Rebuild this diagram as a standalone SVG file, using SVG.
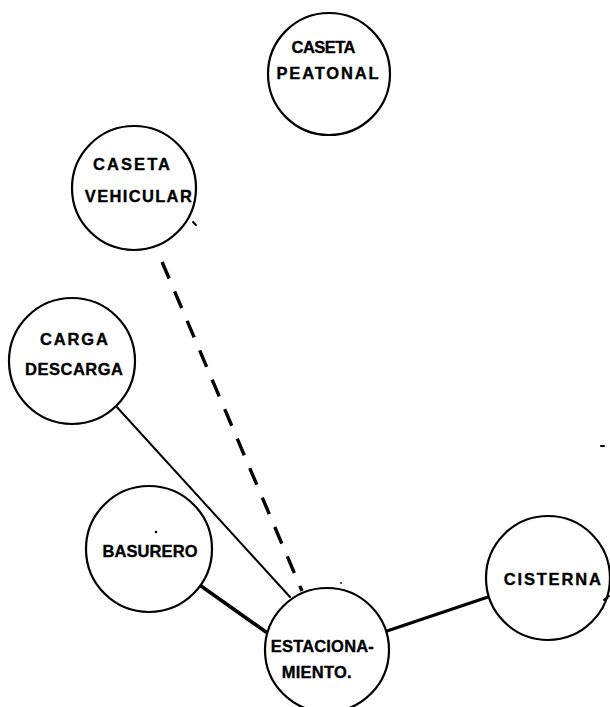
<svg xmlns="http://www.w3.org/2000/svg" width="610" height="707" viewBox="0 0 610 707">
<style>
.node{fill:#fff;stroke:#000;stroke-width:2.2}
.lbl{font-family:"Liberation Sans",Arial,sans-serif;font-weight:bold;font-size:16.5px;fill:#000;stroke:#000;stroke-width:0.35;text-anchor:middle}
.c{stroke:#000;fill:none;stroke-linecap:round}
.mark{stroke:#000;stroke-width:2;stroke-linecap:round;fill:none}
</style>
<rect width="610" height="707" fill="#fff"/>
<g id="connectors">
<line class="c" x1="157" y1="250" x2="302" y2="591" stroke-width="3.4" stroke-dasharray="18 14" stroke-dashoffset="19" style="stroke-linecap:butt"/>
<line class="c" x1="115" y1="405" x2="290" y2="597" stroke-width="2"/>
<line class="c" x1="201" y1="586" x2="266" y2="632" stroke-width="3.6"/>
<line class="c" x1="387" y1="631" x2="491" y2="596" stroke-width="3.2"/>
</g>
<g id="caseta-peatonal">
<circle class="node" cx="329" cy="74" r="61"/>
<text class="lbl" x="323.5" y="53" textLength="64">CASETA</text>
<text class="lbl" x="327.5" y="78.5" textLength="102">PEATONAL</text>
</g>
<g id="caseta-vehicular">
<circle class="node" cx="134" cy="188" r="62"/>
<text class="lbl" x="131.5" y="169.5" textLength="77">CASETA</text>
<text class="lbl" x="138.3" y="201.5" textLength="107">VEHICULAR</text>
</g>
<g id="carga-descarga">
<circle class="node" cx="72" cy="361" r="63"/>
<text class="lbl" x="74" y="345" textLength="68">CARGA</text>
<text class="lbl" x="74" y="375" textLength="98">DESCARGA</text>
</g>
<g id="basurero">
<circle class="node" cx="149" cy="549" r="63"/>
<text class="lbl" x="150" y="557" textLength="95">BASURERO</text>
</g>
<g id="estacionamiento">
<circle class="node" cx="327" cy="650" r="62"/>
<text class="lbl" x="322.3" y="652" textLength="103">ESTACIONA-</text>
<text class="lbl" x="316.7" y="678" textLength="70">MIENTO.</text>
</g>
<g id="cisterna">
<circle class="node" cx="548" cy="578" r="62"/>
<text class="lbl" x="552.3" y="585" textLength="97">CISTERNA</text>
</g>
<g id="marks">
<line class="mark" x1="193" y1="222" x2="196" y2="225"/>
<line class="mark" x1="601" y1="446" x2="604" y2="446"/>
<circle cx="156" cy="532" r="1.3" fill="#000"/>
<circle cx="341" cy="583" r="0.9" fill="#000"/>
<line class="mark" x1="604" y1="600" x2="609" y2="596"/>
</g>
</svg>
